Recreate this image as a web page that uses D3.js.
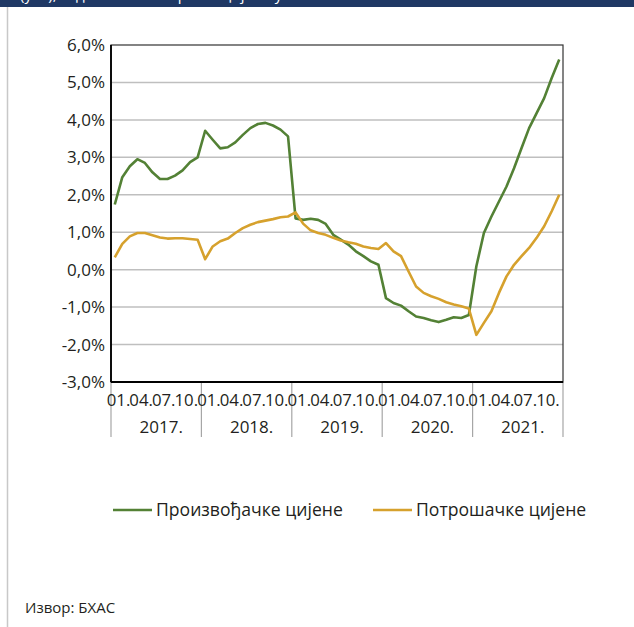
<!DOCTYPE html>
<html lang="sr">
<head>
  <meta charset="UTF-8">
  <title>Произвођачке и потрошачке цијене</title>
  <script src="https://d3js.org/d3.v7.min.js"></script>
  <style>
    body { margin: 0; background: #fff; }
    svg { display: block; font-family: "Open Sans", "Noto Sans", sans-serif; }
  </style>
</head>
<body>
  <div id="chart"></div>
  <script>
    // years and month labels on the category axis
    const years = ["2017.", "2018.", "2019.", "2020.", "2021."];
    const monthLabels = ["01.", "04.", "07.", "10."];
    const yTicks = [-3, -2, -1, 0, 1, 2, 3, 4, 5, 6];

    // producer prices, y/y %, monthly 2017-2021
    const producer = [
      1.74, 2.47, 2.76, 2.95, 2.85, 2.60, 2.42, 2.42, 2.51, 2.65, 2.87, 3.00,
      3.71, 3.47, 3.24, 3.27, 3.40, 3.60, 3.78, 3.89, 3.92, 3.85, 3.74, 3.56,
      1.37, 1.33, 1.36, 1.33, 1.22, 0.93, 0.80, 0.67, 0.49, 0.36, 0.22, 0.13,
      -0.76, -0.89, -0.96, -1.11, -1.25, -1.29, -1.35, -1.40, -1.34, -1.27, -1.29, -1.21,
      0.09, 0.98, 1.42, 1.82, 2.22, 2.71, 3.25, 3.78, 4.18, 4.58, 5.12, 5.61
    ];

    // consumer prices, y/y %
    const consumer = [
      0.33, 0.69, 0.89, 0.98, 0.98, 0.92, 0.86, 0.83, 0.84, 0.84, 0.82, 0.80,
      0.28, 0.62, 0.76, 0.83, 0.98, 1.11, 1.20, 1.27, 1.31, 1.35, 1.40, 1.42,
      1.53, 1.23, 1.05, 0.98, 0.93, 0.85, 0.78, 0.73, 0.69, 0.62, 0.58, 0.55,
      0.71, 0.49, 0.36, -0.05, -0.45, -0.62, -0.71, -0.78, -0.87, -0.93, -0.98, -1.04,
      -1.74, -1.42, -1.11, -0.62, -0.18, 0.13, 0.36, 0.58, 0.85, 1.16, 1.56, 2.00
    ];

    const seriesNames = ["Произвођачке цијене", "Потрошачке цијене"];
    const colors = ["#538135", "#d6a12d"];

    const width = 634, height = 627;
    const plotL = 111, plotR = 563, plotT = 45, plotB = 382;

    const svg = d3.select("#chart").append("svg")
      .attr("width", width)
      .attr("height", height);

    // header strip (cut off at the top) and left frame line
    svg.append("rect")
      .attr("x", 0).attr("y", 0)
      .attr("width", width).attr("height", 7)
      .attr("fill", "#1f3864");
    svg.append("text")
      .attr("x", 20).attr("y", 0)
      .attr("fill", "#fff")
      .style("font-size", "15px")
      .text("(у %), годишња стопа раста цијена у БиХ");
    svg.append("line")
      .attr("x1", 7.5).attr("x2", 7.5)
      .attr("y1", 7).attr("y2", height)
      .attr("stroke", "#c8c8c8")
      .attr("stroke-width", 1.5);

    const months = d3.range(years.length * 12);
    const x = d3.scaleBand().domain(months).range([plotL, plotR]);
    const y = d3.scaleLinear().domain([-3, 6]).range([plotB, plotT]);

    // gridlines
    svg.append("g")
      .selectAll("line")
      .data(yTicks.filter(d => d > -3 && d < 6))
      .join("line")
      .attr("x1", plotL).attr("x2", plotR)
      .attr("y1", d => y(d)).attr("y2", d => y(d))
      .attr("stroke", "#bfbfbf")
      .attr("stroke-width", 1.5);

    // y labels
    const fmt = d => d3.format(".1f")(d).replace(".", ",").replace("−", "-") + "%";
    svg.append("g")
      .selectAll("text")
      .data(yTicks)
      .join("text")
      .attr("x", plotL - 6)
      .attr("y", d => y(d))
      .attr("dy", "0.35em")
      .attr("text-anchor", "end")
      .attr("fill", "#231f20")
      .style("font-size", "17px")
      .text(fmt);

    // year separators below the axis
    svg.append("g")
      .selectAll("line")
      .data(d3.range(years.length + 1))
      .join("line")
      .attr("x1", i => i < years.length ? x(i * 12) : plotR)
      .attr("x2", i => i < years.length ? x(i * 12) : plotR)
      .attr("y1", plotB).attr("y2", 437)
      .attr("stroke", "#a6a6a6")
      .attr("stroke-width", 1.2);

    // month labels
    const monthData = [];
    years.forEach((yr, i) => monthLabels.forEach((m, j) => monthData.push({ m: i * 12 + j * 3, label: m })));
    svg.append("g")
      .selectAll("text")
      .data(monthData)
      .join("text")
      .attr("x", d => x(d.m) + x.bandwidth())
      .attr("y", 406)
      .attr("text-anchor", "middle")
      .attr("fill", "#231f20")
      .style("font-size", "16.8px")
      .text(d => d.label);

    // year labels
    svg.append("g")
      .selectAll("text")
      .data(years)
      .join("text")
      .attr("x", (d, i) => x(i * 12) + x.bandwidth() * 6 + 5)
      .attr("y", 433)
      .attr("text-anchor", "middle")
      .attr("fill", "#231f20")
      .style("font-size", "17px")
      .text(d => d);

    // lines
    const line = d3.line()
      .x((d, i) => x(i) + x.bandwidth() / 2)
      .y(d => y(d));

    [producer, consumer].forEach((s, k) => {
      svg.append("path")
        .datum(s)
        .attr("fill", "none")
        .attr("stroke", colors[k])
        .attr("stroke-width", 2.6)
        .attr("stroke-linejoin", "round")
        .attr("d", line);
    });

    // plot frame
    svg.append("rect")
      .attr("x", plotL).attr("y", plotT)
      .attr("width", plotR - plotL).attr("height", plotB - plotT)
      .attr("fill", "none")
      .attr("stroke", "#333")
      .attr("stroke-width", 1.2);
    svg.append("line")
      .attr("x1", plotL).attr("x2", plotL)
      .attr("y1", plotT).attr("y2", plotB)
      .attr("stroke", "#000")
      .attr("stroke-width", 1.8);
    svg.append("line")
      .attr("x1", plotL).attr("x2", plotR)
      .attr("y1", plotB).attr("y2", plotB)
      .attr("stroke", "#000")
      .attr("stroke-width", 1.8);

    // legend
    const legX = [113, 373];
    const leg = svg.append("g")
      .selectAll("g")
      .data(seriesNames)
      .join("g")
      .attr("transform", (d, i) => `translate(${legX[i]},510)`);
    leg.append("line")
      .attr("x1", 0).attr("x2", 39)
      .attr("stroke", (d, i) => colors[i])
      .attr("stroke-width", 2.6);
    leg.append("text")
      .attr("x", 43)
      .attr("dy", "0.35em")
      .attr("fill", "#231f20")
      .style("font-size", "17.6px")
      .text(d => d);

    // source
    svg.append("text")
      .attr("x", 25).attr("y", 608)
      .attr("dy", "0.35em")
      .attr("fill", "#231f20")
      .style("font-size", "15px")
      .text("Извор: БХАС");
  </script>
</body>
</html>
